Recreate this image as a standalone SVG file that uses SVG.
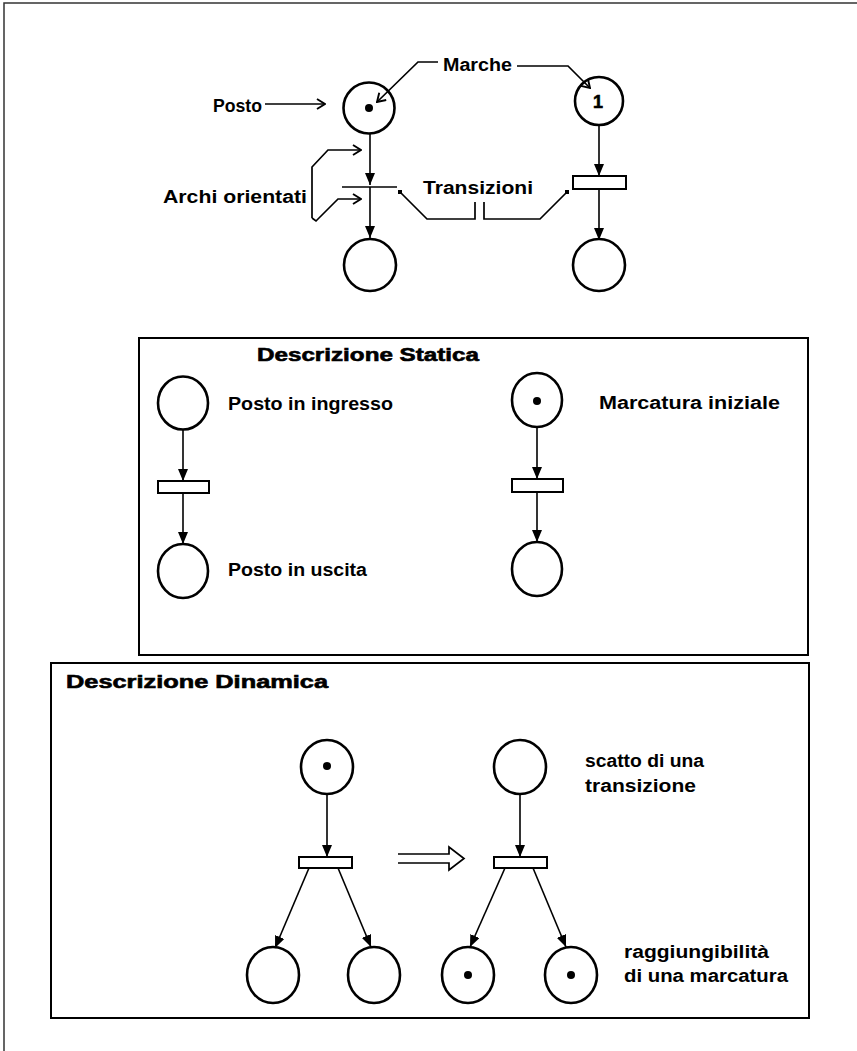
<svg xmlns="http://www.w3.org/2000/svg" width="857" height="1051" viewBox="0 0 857 1051">
<defs>
<style>
.frame{fill:none;stroke:#000;stroke-width:2}
.place{fill:none;stroke:#000;stroke-width:2.6}
.trans{fill:#fff;stroke:#000;stroke-width:2}
.arc{fill:none;stroke:#000;stroke-width:1.6}
.ann{fill:none;stroke:#000;stroke-width:1.7}
.tok{fill:#000}
text{font-family:"Liberation Sans",Arial,sans-serif;font-size:18px;fill:#000}
.lbl{font-weight:bold}
.ttl{font-weight:bold;stroke:#000;stroke-width:0.6}
</style>
<marker id="tri" viewBox="0 0 12 10" refX="12" refY="5" markerWidth="12" markerHeight="10" markerUnits="userSpaceOnUse" orient="auto">
<path d="M0,0 L12,5 L0,10 z" fill="#000"/>
</marker>
<marker id="chev" viewBox="0 0 10 12" refX="9" refY="6" markerWidth="10" markerHeight="12" markerUnits="userSpaceOnUse" orient="auto">
<path d="M1,1 L9,6 L1,11" fill="none" stroke="#000" stroke-width="1.9"/>
</marker>
<marker id="sq" viewBox="0 0 4 4" refX="2" refY="2" markerWidth="4" markerHeight="4" markerUnits="userSpaceOnUse">
<rect x="0" y="0" width="4" height="4" fill="#000"/>
</marker>
</defs>
<rect width="857" height="1051" fill="#fff"/>
<g id="outer-frame">
<path d="M857,3 L4,3 L4,1051" fill="none" stroke="#333" stroke-width="1.5"/>
</g>
<g id="box-statica"><rect class="frame" x="139" y="338" width="669" height="317"/></g>
<g id="box-dinamica"><rect class="frame" x="51" y="663" width="758" height="355"/></g>

<g id="connectors">
<path class="arc" d="M370,133 L370,185" marker-end="url(#tri)"/>
<path class="arc" d="M370,187 L370,238" marker-end="url(#tri)"/>
<path class="arc" d="M599,125 L599,176" marker-end="url(#tri)"/>
<path class="arc" d="M599,189 L599,240" marker-end="url(#tri)"/>
<path class="arc" d="M183,429 L183,481" marker-end="url(#tri)"/>
<path class="arc" d="M183,493 L183,544" marker-end="url(#tri)"/>
<path class="arc" d="M537,427 L537,479" marker-end="url(#tri)"/>
<path class="arc" d="M537,492 L537,542" marker-end="url(#tri)"/>
<path class="arc" d="M327,794 L327,857" marker-end="url(#tri)"/>
<path class="arc" d="M309,868 L275,948" marker-end="url(#tri)"/>
<path class="arc" d="M338,868 L371,947" marker-end="url(#tri)"/>
<path class="arc" d="M520,794 L520,857" marker-end="url(#tri)"/>
<path class="arc" d="M505,868 L470,947" marker-end="url(#tri)"/>
<path class="arc" d="M533,868 L566,947" marker-end="url(#tri)"/>
<path class="ann" d="M265,104 L325,104" marker-end="url(#chev)"/>
<path class="ann" d="M438,62 L418,62 L377,102" marker-end="url(#chev)"/>
<path class="ann" d="M517,66 L568,66 L590,88" marker-end="url(#chev)"/>
<path class="ann" d="M312,218 L312,167 L328,150 L361,150" marker-end="url(#chev)"/>
<path class="ann" d="M312,218 L316,221 L338,199 L361,199" marker-end="url(#chev)"/>
<path class="ann" d="M400,192 L427,219 L475,219 L475,202" marker-start="url(#sq)"/>
<path class="ann" d="M484,202 L484,219 L540,219 L567,192" marker-end="url(#sq)"/>
<path class="ann" d="M398,854 L449,854 L449,847 L464,858.5 L449,870 L449,863 L398,863" stroke-width="2"/>
</g>

<g id="top-net">
<g id="p1"><circle class="place" cx="369" cy="108" r="25.5"/><circle class="tok" cx="369" cy="108" r="4"/></g>
<g id="t1"><path d="M342,187 L397,187" stroke="#000" stroke-width="1.6"/></g>
<g id="p2"><circle class="place" cx="370" cy="265" r="26"/></g>
<g id="p3"><circle class="place" cx="599" cy="101" r="24"/><text x="598" y="108" class="ttl" text-anchor="middle" font-size="20">1</text></g>
<g id="t2"><rect class="trans" x="573" y="176" width="53" height="13"/></g>
<g id="p4"><circle class="place" cx="599" cy="265" r="26"/></g>
<g id="lbl-posto"><text class="lbl" x="213" y="112" textLength="49" lengthAdjust="spacingAndGlyphs">Posto</text></g>
<g id="lbl-marche"><text class="lbl" x="443" y="71" textLength="69" lengthAdjust="spacingAndGlyphs">Marche</text></g>
<g id="lbl-archi"><text class="lbl" x="163" y="203" textLength="144" lengthAdjust="spacingAndGlyphs">Archi orientati</text></g>
<g id="lbl-trans"><text class="lbl" x="423" y="194" textLength="110" lengthAdjust="spacingAndGlyphs">Transizioni</text></g>
</g>

<g id="statica">
<g id="s-title"><text class="ttl" x="257" y="361" textLength="222" lengthAdjust="spacingAndGlyphs">Descrizione Statica</text></g>
<g id="s-p1"><ellipse class="place" cx="183" cy="403" rx="25" ry="26.5"/></g>
<g id="s-t1"><rect class="trans" x="158" y="481" width="51" height="12"/></g>
<g id="s-p2"><ellipse class="place" cx="183" cy="571" rx="25" ry="27"/></g>
<g id="s-p3"><ellipse class="place" cx="537" cy="400" rx="25" ry="27"/><circle class="tok" cx="537" cy="401" r="4"/></g>
<g id="s-t2"><rect class="trans" x="512" y="479" width="51" height="13"/></g>
<g id="s-p4"><ellipse class="place" cx="537" cy="569" rx="25" ry="27"/></g>
<g id="s-l1"><text class="lbl" x="228" y="410" textLength="165" lengthAdjust="spacingAndGlyphs">Posto in ingresso</text></g>
<g id="s-l2"><text class="lbl" x="228" y="576" textLength="139" lengthAdjust="spacingAndGlyphs">Posto in uscita</text></g>
<g id="s-l3"><text class="lbl" x="599" y="409" textLength="181" lengthAdjust="spacingAndGlyphs">Marcatura iniziale</text></g>
</g>

<g id="dinamica">
<g id="d-title"><text class="ttl" x="66" y="688" textLength="262" lengthAdjust="spacingAndGlyphs">Descrizione Dinamica</text></g>
<g id="d-p1"><ellipse class="place" cx="327" cy="767" rx="26" ry="27"/><circle class="tok" cx="327" cy="766" r="4"/></g>
<g id="d-t1"><rect class="trans" x="299" y="857" width="53" height="11"/></g>
<g id="d-p2"><ellipse class="place" cx="273" cy="975" rx="26" ry="28"/></g>
<g id="d-p3"><ellipse class="place" cx="374" cy="975" rx="26" ry="28"/></g>
<g id="d-p4"><ellipse class="place" cx="520" cy="767" rx="26" ry="27"/></g>
<g id="d-t2"><rect class="trans" x="494" y="857" width="53" height="11"/></g>
<g id="d-p5"><ellipse class="place" cx="468" cy="975" rx="26" ry="28"/><circle class="tok" cx="468" cy="975" r="4"/></g>
<g id="d-p6"><ellipse class="place" cx="571" cy="975" rx="26" ry="28"/><circle class="tok" cx="571" cy="975" r="4"/></g>
<g id="d-l1"><text class="lbl" x="585" y="767" textLength="119" lengthAdjust="spacingAndGlyphs">scatto di una</text><text class="lbl" x="585" y="792" textLength="111" lengthAdjust="spacingAndGlyphs">transizione</text></g>
<g id="d-l2"><text class="lbl" x="624" y="958" textLength="145" lengthAdjust="spacingAndGlyphs">raggiungibilità</text><text class="lbl" x="624" y="982" textLength="164" lengthAdjust="spacingAndGlyphs">di una marcatura</text></g>
</g>
</svg>
